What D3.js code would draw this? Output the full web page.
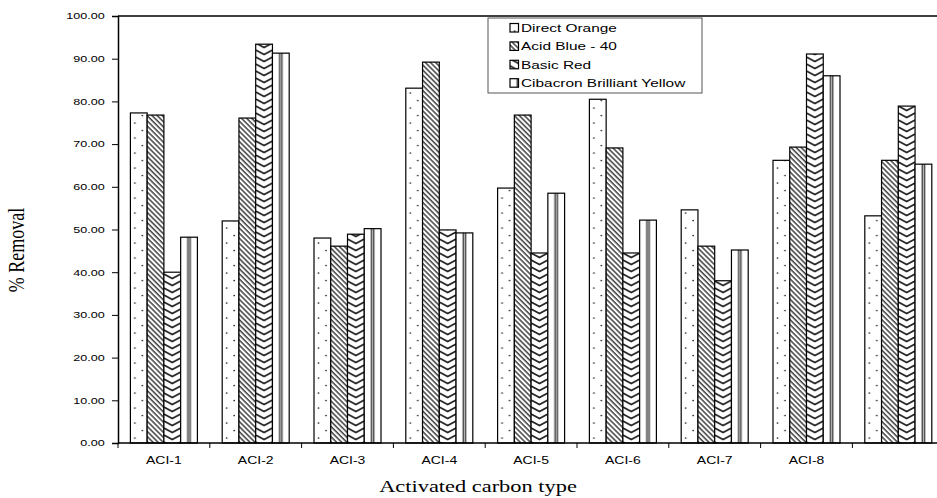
<!DOCTYPE html>
<html lang="en">
<head>
    <meta charset="UTF-8">
    <title>% Removal by activated carbon type</title>
    <script src="https://d3js.org/d3.v7.min.js"></script>
    <style>
        body { margin: 0; background: #fff; }
        .axis text { font-family: "Liberation Sans", Arial, sans-serif; font-size: 9px; fill: #000; }
        .axis .lbl { font-size: 10px; }
        .axis path, .axis line { stroke: #000; }
        .bar { stroke: #000; stroke-width: 1.2px; }
        .legend text { font-family: "Liberation Sans", Arial, sans-serif; font-size: 11px; }
        .title { font-family: "Liberation Serif", "Times New Roman", serif; font-size: 16px; }
    </style>
</head>
<body>
    <svg width="937" height="498"></svg>
    <script>
        // data
        const categories = ["ACI-1", "ACI-2", "ACI-3", "ACI-4", "ACI-5", "ACI-6", "ACI-7", "ACI-8", ""];
        const seriesNames = ["Direct Orange", "Acid Blue - 40", "Basic Red", "Cibacron Brilliant Yellow"];
        const directOrange = [77.3, 52.0, 48.0, 83.1, 59.7, 80.5, 54.6, 66.2, 53.2];
        const acidBlue = [76.8, 76.1, 46.1, 89.2, 76.8, 69.1, 46.1, 69.3, 66.2];
        const basicRed = [40.0, 93.4, 48.9, 49.9, 44.5, 44.5, 38.0, 91.1, 78.9];
        const cibacron = [48.2, 91.3, 50.2, 49.2, 58.5, 52.2, 45.2, 86.0, 65.3];
        const yTicks = [0, 10, 20, 30, 40, 50, 60, 70, 80, 90, 100];

        const seriesValues = [directOrange, acidBlue, basicRed, cibacron];
        const patternIds = ["dots", "hatch", "chevron", "vstripe"];

        const stretch = 1.4; // text in the picture is stretched sideways

        const svg = d3.select("svg");
        const plotLeft = 118, plotTop = 16, plotBottom = 443;

        const x = d3.scaleBand().domain(d3.range(categories.length)).range([plotLeft, plotLeft + 91.8 * categories.length]);
        const xs = d3.scaleBand().domain(d3.range(4)).range([12.4, 79.4]);
        const y = d3.scaleLinear().domain([0, 100]).range([plotBottom, plotTop]);
        const bw = xs.bandwidth();

        // patterns (userSpaceOnUse so they start at each bar's left edge)
        const defs = svg.append("defs");

        const pDots = defs.append("pattern").attr("id", "dots").attr("patternUnits", "userSpaceOnUse")
            .attr("width", bw).attr("height", 15);
        pDots.append("rect").attr("width", bw).attr("height", 15).attr("fill", "#fff");
        pDots.append("circle").attr("cx", 4.5).attr("cy", 3).attr("r", 0.85).attr("fill", "#222");
        pDots.append("circle").attr("cx", 12).attr("cy", 10.5).attr("r", 0.85).attr("fill", "#222");

        const pHatch = defs.append("pattern").attr("id", "hatch").attr("patternUnits", "userSpaceOnUse")
            .attr("width", 3.6).attr("height", 10).attr("patternTransform", "rotate(-45)");
        pHatch.append("rect").attr("width", 3.6).attr("height", 10).attr("fill", "#fff");
        pHatch.append("line").attr("x1", 1).attr("x2", 1).attr("y1", 0).attr("y2", 10)
            .attr("stroke", "#222").attr("stroke-width", 1.3);

        const pChev = defs.append("pattern").attr("id", "chevron").attr("patternUnits", "userSpaceOnUse")
            .attr("width", bw).attr("height", 7);
        pChev.append("rect").attr("width", bw).attr("height", 7).attr("fill", "#fff");
        pChev.append("path").attr("d", `M0,1 L${bw / 2},5.5 L${bw},1`)
            .attr("fill", "none").attr("stroke", "#222").attr("stroke-width", 1.6);

        const pStripe = defs.append("pattern").attr("id", "vstripe").attr("patternUnits", "userSpaceOnUse")
            .attr("width", bw).attr("height", 10);
        pStripe.append("rect").attr("width", bw).attr("height", 10).attr("fill", "#fff");
        pStripe.append("rect").attr("x", bw / 2 - 1.3).attr("width", 2.6).attr("height", 10)
            .attr("fill", "#bbb");
        pStripe.append("line").attr("x1", bw / 2 - 1.3).attr("x2", bw / 2 - 1.3).attr("y1", 0).attr("y2", 10)
            .attr("stroke", "#000").attr("stroke-width", 0.9);
        pStripe.append("line").attr("x1", bw / 2 + 1.3).attr("x2", bw / 2 + 1.3).attr("y1", 0).attr("y2", 10)
            .attr("stroke", "#000").attr("stroke-width", 0.9);

        // bars
        const bars = [];
        seriesValues.forEach((vals, s) => vals.forEach((v, i) => bars.push({ s, i, v })));

        svg.append("g").selectAll("g")
            .data(bars)
            .enter().append("g")
            .attr("transform", d => `translate(${x(d.i) + xs(d.s)},0)`)
            .append("rect")
            .attr("class", "bar")
            .attr("x", 0)
            .attr("width", bw)
            .attr("y", d => y(d.v))
            .attr("height", d => y(0) - y(d.v))
            .attr("fill", d => `url(#${patternIds[d.s]})`);

        // top frame line
        svg.append("line").attr("x1", plotLeft).attr("x2", 937).attr("y1", plotTop).attr("y2", plotTop)
            .attr("stroke", "#000").attr("stroke-width", 1.3);

        // y axis
        const yAxis = svg.append("g").attr("class", "axis")
            .attr("transform", `translate(${plotLeft},0)`)
            .call(d3.axisLeft(y).tickValues(yTicks).tickSize(6).tickFormat(d3.format(".2f")));
        yAxis.select(".domain").attr("stroke-width", 1.5);
        yAxis.selectAll("text").attr("x", -9.5).attr("transform", `scale(${stretch},1)`);

        // x axis, ticks at group boundaries
        const xAxis = svg.append("g").attr("class", "axis")
            .attr("transform", `translate(0,${plotBottom})`);
        xAxis.append("line").attr("x1", plotLeft).attr("x2", 937).attr("stroke", "#000").attr("stroke-width", 1.5);
        xAxis.selectAll(".tk")
            .data(d3.range(categories.length))
            .enter().append("line")
            .attr("class", "tk")
            .attr("x1", d => x(d)).attr("x2", d => x(d))
            .attr("y1", 0).attr("y2", 5);
        xAxis.selectAll(".lbl")
            .data(categories)
            .enter().append("text")
            .attr("class", "lbl")
            .attr("text-anchor", "middle")
            .attr("transform", (d, i) => `translate(${x(i) + x.bandwidth() / 2},21) scale(${stretch},1)`)
            .text(d => d);

        // axis titles
        svg.append("text").attr("class", "title")
            .attr("text-anchor", "middle")
            .attr("transform", `translate(478,492) scale(${stretch},1)`)
            .text("Activated carbon type");
        svg.append("text").attr("class", "title")
            .attr("text-anchor", "middle")
            .style("font-size", "18px")
            .attr("transform", `translate(24,250) scale(1.3,1) rotate(-90)`)
            .text("% Removal");

        // legend
        const legend = svg.append("g").attr("class", "legend");
        legend.append("rect").attr("x", 488).attr("y", 18).attr("width", 214).attr("height", 75)
            .attr("fill", "#fff").attr("stroke", "#555").attr("stroke-width", 1);
        const item = legend.selectAll(".item")
            .data(seriesNames)
            .enter().append("g")
            .attr("class", "item")
            .attr("transform", (d, i) => `translate(510,${28 + i * 18.4})`);
        item.append("rect")
            .attr("x", 0).attr("y", -4.5).attr("width", 8.5).attr("height", 8.5)
            .attr("fill", (d, i) => `url(#${patternIds[i]})`)
            .attr("stroke", "#000").attr("stroke-width", 1.2);
        item.append("text")
            .attr("transform", `translate(11,4) scale(${stretch},1)`)
            .text(d => d);
    </script>
</body>
</html>
